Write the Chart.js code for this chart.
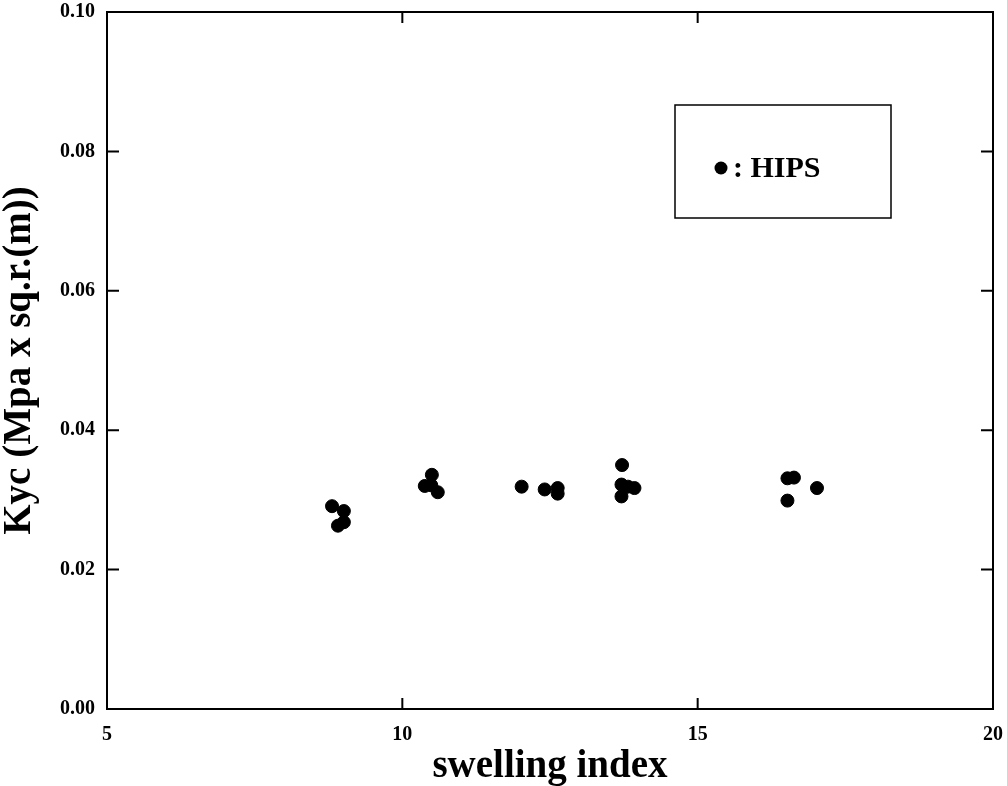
<!DOCTYPE html>
<html lang="en">
<head>
<meta charset="UTF-8" />
<title>Kyc vs swelling index</title>
<script src="https://cdn.jsdelivr.net/npm/chart.js"></script>
<style>
  body { margin: 0; background: #fff; }
</style>
</head>
<body>
<canvas id="myChart" width="1007" height="786"></canvas>
<script>
// values
var swellingIndex = [8.81, 9.01, 9.01, 8.91,
                     10.50, 10.38, 10.49, 10.60,
                     12.02, 12.41, 12.63, 12.63,
                     13.72, 13.71, 13.82, 13.93, 13.71,
                     16.52, 16.63, 17.02, 16.52];
var kyc = [0.0291, 0.0284, 0.0268, 0.0263,
           0.0336, 0.0320, 0.0321, 0.0311,
           0.0319, 0.0315, 0.0317, 0.0309,
           0.0350, 0.0322, 0.0319, 0.0317, 0.0305,
           0.0331, 0.0332, 0.0317, 0.0299];
var seriesName = "HIPS";
var xTitle = "swelling index";
var yTitle = "Kyc (Mpa x sq.r.(m))";

var serif = "'Liberation Serif', 'DejaVu Serif', serif";

var points = swellingIndex.map(function (x, i) { return { x: x, y: kyc[i] }; });

// frame, inward ticks and the boxed legend
var framePlugin = {
  id: "frame",
  afterDatasetsDraw: function (chart) {
    var ctx = chart.ctx;
    var a = chart.chartArea;
    var xs = chart.scales.x;
    var ys = chart.scales.y;
    ctx.save();
    ctx.strokeStyle = "#000";
    ctx.lineWidth = 2;
    ctx.strokeRect(a.left, a.top, a.right - a.left, a.bottom - a.top);
    ctx.beginPath();
    xs.ticks.forEach(function (t) {
      var px = xs.getPixelForValue(t.value);
      ctx.moveTo(px, a.bottom); ctx.lineTo(px, a.bottom - 11);
      ctx.moveTo(px, a.top); ctx.lineTo(px, a.top + 11);
    });
    ys.ticks.forEach(function (t) {
      var py = ys.getPixelForValue(t.value);
      ctx.moveTo(a.left, py); ctx.lineTo(a.left + 12, py);
      ctx.moveTo(a.right, py); ctx.lineTo(a.right - 12, py);
    });
    ctx.stroke();

    // legend box
    var bx = a.left + 568, by = a.top + 93, bw = 216, bh = 113;
    ctx.lineWidth = 1.5;
    ctx.strokeRect(bx, by, bw, bh);
    ctx.fillStyle = "#000";
    ctx.beginPath();
    ctx.arc(bx + 46, by + 63, 6.5, 0, Math.PI * 2);
    ctx.fill();
    ctx.font = "bold 30px " + serif;
    ctx.textBaseline = "middle";
    ctx.textAlign = "left";
    ctx.fillText(": " + seriesName, bx + 58, by + 64);
    ctx.restore();
  }
};

new Chart(document.getElementById("myChart"), {
  type: "scatter",
  data: {
    datasets: [{
      label: seriesName,
      data: points,
      backgroundColor: "#000",
      borderColor: "#000",
      pointRadius: 6.5,
      pointHoverRadius: 6.5
    }]
  },
  options: {
    responsive: false,
    animation: false,
    layout: { padding: { top: 12, right: 14, left: 0, bottom: 0 } },
    plugins: { legend: { display: false }, tooltip: { enabled: false } },
    scales: {
      x: {
        type: "linear",
        min: 5, max: 20,
        grid: { display: false, drawTicks: false },
        border: { display: false },
        ticks: {
          stepSize: 5, padding: 14, color: "#000",
          font: { family: serif, size: 20, weight: "bold" },
          maxRotation: 0
        },
        title: {
          display: true, text: xTitle, color: "#000", padding: 0,
          font: { family: serif, size: 39, weight: "bold", lineHeight: 1.0 }
        },
        afterFit: function (s) {
          s.height = 77;
          s.paddingLeft = 0; s.paddingRight = 0;
        }
      },
      y: {
        min: 0, max: 0.1,
        grid: { display: false, drawTicks: false },
        border: { display: false },
        ticks: {
          stepSize: 0.02, padding: 12, color: "#000",
          font: { family: serif, size: 20, weight: "bold" },
          callback: function (v) { return v.toFixed(2); }
        },
        title: {
          display: true, text: yTitle, color: "#000", padding: 0,
          font: { family: serif, size: 39, weight: "bold", lineHeight: 1.0 }
        },
        afterFit: function (s) {
          s.width = 107;
          s.paddingTop = 0; s.paddingBottom = 0;
        }
      }
    }
  },
  plugins: [framePlugin]
});
</script>
</body>
</html>
